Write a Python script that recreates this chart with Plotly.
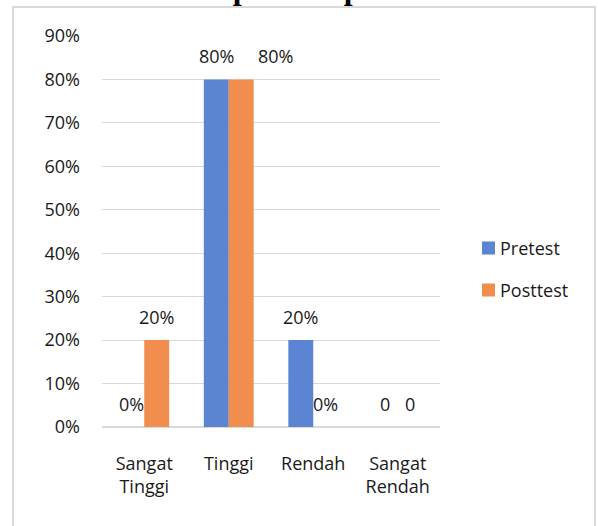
import plotly.graph_objects as go

# Category labels and scores (share of students per level)
categories = ["Sangat<br>Tinggi", "Tinggi", "Rendah", "Sangat<br>Rendah"]
pretest = [0.0, 0.8, 0.2, 0.0]
posttest = [0.2, 0.8, 0.0, 0.0]
series_names = ["Pretest", "Posttest"]
# Whether each category's value labels are shown as percentages
label_as_pct = [True, True, True, False]
# Manual horizontal nudges (px) of the value labels to avoid overlap
pre_label_dx = [0, 0, 0, 0]
post_label_dx = [0, 34, 0, 0]

y_ticks = [i / 10 for i in range(10)]

FONT = "Open Sans"
BLUE = "#5b84d2"
ORANGE = "#f18d4d"
GRID = "#d9d9d9"
TEXT = "#1a1a1a"

# Plot-area geometry in pixels (used for paper-coordinate conversions)
L, R, T, B = 102, 440, 36, 427
PW, PH = R - L, B - T


def px_x(x):
    return (x - L) / PW


def px_y(y):
    return (B - y) / PH


fig = go.Figure()
fig.add_trace(go.Bar(name=series_names[0], x=categories, y=pretest,
                     marker=dict(color=BLUE, line=dict(width=0))))
fig.add_trace(go.Bar(name=series_names[1], x=categories, y=posttest,
                     marker=dict(color=ORANGE, line=dict(width=0))))


def fmt(v, pct):
    return f"{v:.0%}" if pct else f"{v:g}"


# Value labels above each bar
for i, cat in enumerate(categories):
    for vals, dx, off in ((pretest, pre_label_dx, -0.5), (posttest, post_label_dx, 0.5)):
        v = vals[i]
        fig.add_annotation(
            x=cat, y=v, xref="x", yref="y",
            text=fmt(v, label_as_pct[i]),
            showarrow=False, yanchor="middle", xanchor="center",
            xshift=off * 25 + dx[i], yshift=23,
            font=dict(family=FONT, size=18, color=TEXT),
        )

# Legend: colour swatch + series name
for name, color, cy in zip(series_names, (BLUE, ORANGE), (248, 290)):
    fig.add_shape(type="rect", xref="paper", yref="paper",
                  x0=px_x(482), x1=px_x(495), y0=px_y(cy + 6.5), y1=px_y(cy - 6.5),
                  fillcolor=color, line=dict(width=0))
    fig.add_annotation(x=px_x(498), y=px_y(cy), xref="paper", yref="paper",
                       text=name, showarrow=False, xanchor="left", yanchor="middle",
                       font=dict(family=FONT, size=18, color=TEXT))

# Chart title (runs off the top edge)
fig.add_annotation(
    x=0.585, y=1.072, xref="paper", yref="paper",
    text="<b>Kelompok Eksperimen</b>", showarrow=False,
    xanchor="center", yanchor="bottom",
    font=dict(family="Liberation Serif", size=32, color="black"),
)

# Outer chart frame
fig.add_shape(type="rect", xref="paper", yref="paper",
              x0=px_x(13), x1=px_x(595), y0=px_y(540), y1=px_y(7),
              line=dict(color=GRID, width=2), layer="below")

fig.update_layout(
    width=598, height=526,
    margin=dict(l=L, r=598 - R, t=T, b=526 - B),
    paper_bgcolor="white", plot_bgcolor="white",
    barmode="group", bargap=0.41, bargroupgap=0,
    font=dict(family=FONT, size=18, color=TEXT),
    showlegend=False,
    xaxis=dict(showgrid=False, showline=False, ticks="", ticklabelstandoff=24,
               tickfont=dict(family=FONT, size=18)),
    yaxis=dict(range=[0, 0.9], tickvals=y_ticks, tickformat=".0%",
               showgrid=True, gridcolor=GRID, gridwidth=1,
               zeroline=True, zerolinecolor=GRID, zerolinewidth=2,
               showline=False, ticks="", ticklabelstandoff=21,
               tickfont=dict(family=FONT, size=18)),
)

fig.write_html("out.html")
